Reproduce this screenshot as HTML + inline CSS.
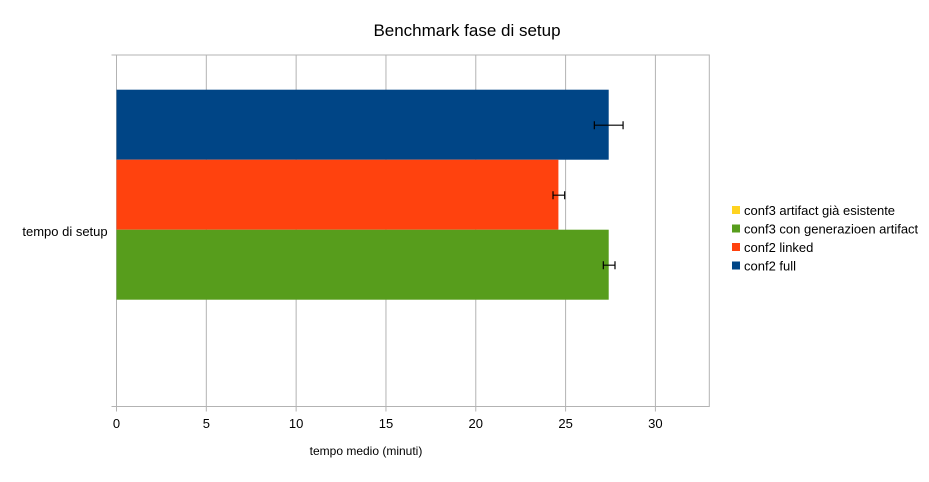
<!DOCTYPE html>
<html><head><meta charset="utf-8"><style>
body{margin:0;background:#fff;font-family:"Liberation Sans",sans-serif}
svg text{font-family:"Liberation Sans",sans-serif;fill:#000}
</style></head><body>
<svg width="929" height="477">
<text x="467" y="36" font-size="17" text-anchor="middle">Benchmark fase di setup</text>
<g id="grid"></g>
<g id="bars"></g>
<g id="errs"></g>
<g id="ticks"></g>
<text x="65" y="236" font-size="13" text-anchor="middle">tempo di setup</text>
<text x="366" y="455" font-size="12" text-anchor="middle">tempo medio (minuti)</text>
<g id="legend"></g>
</svg>
<script>
const seriesNames=["conf2 full","conf2 linked","conf3 con generazioen artifact","conf3 artifact già esistente"];
const seriesValues=[27.4,24.6,27.4,0];
const errLow=[26.6,24.3,27.1,0];
const errHigh=[28.2,24.95,27.75,0];
const seriesColors=["#004586","#ff420e","#579d1c","#ffd320"];
const xTicks=[0,5,10,15,20,25,30];
const xMax=33;
const NS="http://www.w3.org/2000/svg";
const L=116.5,R=709.3,T=55,B=406.5;
const xs=v=>L+(R-L)*v/xMax;
function mk(t,a,p){const e=document.createElementNS(NS,t);for(const k in a)e.setAttribute(k,a[k]);p.appendChild(e);return e;}
const grid=document.getElementById('grid'),bars=document.getElementById('bars'),errs=document.getElementById('errs'),ticks=document.getElementById('ticks'),leg=document.getElementById('legend');
xTicks.forEach(t=>{
 const x=xs(t);
 const g=mk('line',{x1:x,x2:x,y1:T,y2:B+5,stroke:'#b3b3b3','stroke-width':1},grid);
 
 
 const tx=mk('text',{x:x,y:428,'font-size':13,'text-anchor':'middle'},ticks);
 tx.textContent=t;
 
 
});
const fr=mk('path',{d:`M${L},${T}H${R}V${B}H${L}Z`,fill:'none',stroke:'#b3b3b3','stroke-width':1},grid);


mk('line',{x1:L-5,x2:L,y1:T,y2:T,stroke:'#b3b3b3'},grid);
mk('line',{x1:L-5,x2:L,y1:B,y2:B,stroke:'#b3b3b3'},grid);
const bh=70,b0=89.7;
seriesValues.forEach((v,i)=>{
 const y=b0+i*bh;
 const r=mk('rect',{x:L,y:y,width:xs(v)-L,height:bh,fill:seriesColors[i]},bars);
 
 
 if(v>0){
  const cy=y+bh/2+0.5,x1=xs(errLow[i]),x2=xs(errHigh[i]);
  const e=mk('path',{d:`M${x1},${cy}H${x2}M${x1},${cy-4}V${cy+4}M${x2},${cy-4}V${cy+4}`,stroke:'#000','stroke-width':1.2,fill:'none'},errs);
  
  
 }
});
const legOrder=[3,2,1,0];
legOrder.forEach((si,k)=>{
 const y=211+k*18.5;
 const g=mk('g',{},leg);
 
 
 mk('rect',{x:732,y:y-5,width:8,height:8,fill:seriesColors[si]},g);
 const t=mk('text',{x:744,y:y+4,'font-size':13},g);
 t.textContent=seriesNames[si];
});
</script>
</body></html>
